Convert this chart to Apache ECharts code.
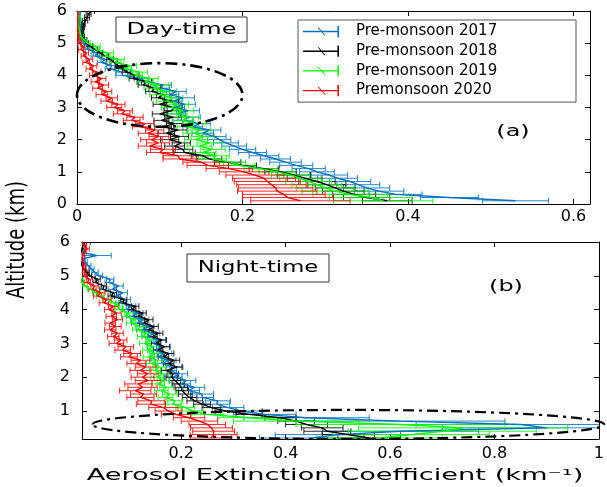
<!DOCTYPE html>
<html>
<head>
<meta charset="utf-8">
<script src="https://cdn.jsdelivr.net/npm/echarts/dist/echarts.min.js"></script>
<style>
  html, body { margin: 0; padding: 0; background: #fff; }
  #chart { width: 607px; height: 487px; }
</style>
</head>
<body>
<div id="chart"></div>
<script>
// altitude grid (km)
var altDay = [
  0.1,0.2,0.3,0.4,0.5,0.6,0.7,0.8,0.9,1.0,
  1.1,1.2,1.3,1.4,1.5,1.6,1.7,1.8,1.9,2.0,
  2.1,2.2,2.3,2.4,2.5,2.6,2.7,2.8,2.9,3.0,
  3.1,3.2,3.3,3.4,3.5,3.6,3.7,3.8,3.9,4.0,
  4.1,4.2,4.3,4.4,4.5,4.6,4.7,4.8,4.9,5.0,
  5.1,5.2,5.3,5.4,5.5,5.6,5.7,5.8,5.9,6.0];
var altNight = [
  0.2,0.3,0.4,0.5,0.6,0.7,0.8,0.9,1.0,
  1.1,1.2,1.3,1.4,1.5,1.6,1.7,1.8,1.9,2.0,
  2.1,2.2,2.3,2.4,2.5,2.6,2.7,2.8,2.9,3.0,
  3.1,3.2,3.3,3.4,3.5,3.6,3.7,3.8,3.9,4.0,
  4.1,4.2,4.3,4.4,4.5,4.6,4.7,4.8,4.9,5.0,
  5.1,5.2,5.3,5.4,5.5,5.6,5.7,5.8,5.9,6.0];

// (a) day-time extinction + error
var blueDay = [
  0.53,0.45,0.385,0.365,0.35,0.34,0.33,0.315,0.305,0.29,
  0.28,0.265,0.252,0.24,0.226,0.212,0.2,0.19,0.18,0.172,
  0.166,0.152,0.16,0.14,0.148,0.128,0.136,0.12,0.134,0.118,
  0.13,0.116,0.128,0.112,0.12,0.102,0.104,0.082,0.078,0.055,
  0.054,0.04,0.042,0.03,0.034,0.022,0.024,0.014,0.015,0.008,
  0.008,0.006,0.005,0.004,0.004,0.003,0.003,0.002,0.002,0.002];
var blueDayErr = [
  0.04,0.035,0.032,0.03,0.028,0.026,0.025,0.024,0.022,0.021,
  0.02,0.02,0.019,0.018,0.018,0.017,0.016,0.015,0.015,0.014,
  0.014,0.013,0.014,0.012,0.013,0.012,0.013,0.011,0.014,0.012,
  0.013,0.011,0.014,0.011,0.012,0.01,0.01,0.009,0.009,0.008,
  0.007,0.006,0.006,0.005,0.005,0.005,0.004,0.004,0.004,0.003,
  0.003,0.003,0.003,0.002,0.002,0.002,0.002,0.002,0.002,0.002];
var blackDay = [
  0.375,0.35,0.335,0.322,0.312,0.302,0.29,0.275,0.262,0.246,
  0.226,0.2,0.182,0.16,0.152,0.13,0.128,0.118,0.126,0.112,
  0.124,0.108,0.122,0.104,0.118,0.102,0.116,0.1,0.114,0.118,
  0.1,0.114,0.098,0.104,0.09,0.094,0.08,0.084,0.068,0.07,
  0.06,0.055,0.05,0.045,0.04,0.034,0.028,0.022,0.016,0.011,
  0.009,0.007,0.006,0.006,0.007,0.008,0.01,0.012,0.014,0.017];
var blackDayErr = [
  0.03,0.028,0.026,0.025,0.024,0.023,0.022,0.021,0.02,0.019,
  0.018,0.017,0.016,0.015,0.014,0.013,0.012,0.012,0.011,0.011,
  0.011,0.01,0.011,0.01,0.01,0.009,0.01,0.009,0.009,0.009,
  0.008,0.009,0.008,0.008,0.007,0.007,0.006,0.006,0.005,0.005,
  0.005,0.005,0.004,0.004,0.004,0.004,0.003,0.003,0.003,0.003,
  0.003,0.002,0.002,0.002,0.002,0.002,0.003,0.003,0.003,0.004];
var greenDay = [
  0.37,0.355,0.33,0.312,0.3,0.29,0.28,0.27,0.258,0.242,
  0.222,0.196,0.186,0.164,0.168,0.152,0.164,0.148,0.16,0.144,
  0.152,0.142,0.148,0.134,0.142,0.128,0.134,0.12,0.128,0.114,
  0.122,0.108,0.116,0.1,0.108,0.092,0.1,0.082,0.088,0.07,
  0.076,0.058,0.064,0.046,0.05,0.034,0.038,0.022,0.024,0.012,
  0.009,0.005,0.004,0.003,0.002,0.002,0.002,0.002,0.001,0.001];
var greenDayErr = [
  0.06,0.05,0.045,0.04,0.035,0.03,0.028,0.025,0.023,0.022,
  0.02,0.019,0.018,0.017,0.016,0.016,0.015,0.015,0.015,0.014,
  0.014,0.014,0.014,0.013,0.014,0.013,0.013,0.013,0.013,0.012,
  0.013,0.012,0.012,0.012,0.012,0.011,0.011,0.01,0.01,0.009,
  0.009,0.008,0.008,0.007,0.007,0.006,0.006,0.005,0.004,0.004,
  0.003,0.003,0.002,0.002,0.002,0.002,0.002,0.002,0.001,0.001];
var redDay = [
  0.27,0.255,0.25,0.242,0.24,0.235,0.23,0.226,0.215,0.202,
  0.184,0.158,0.15,0.124,0.122,0.1,0.104,0.088,0.098,0.09,
  0.099,0.086,0.094,0.078,0.082,0.066,0.07,0.054,0.058,0.045,
  0.05,0.036,0.042,0.03,0.036,0.025,0.032,0.022,0.03,0.02,
  0.024,0.015,0.02,0.011,0.015,0.008,0.011,0.005,0.007,0.003,
  0.002,0.001,0.001,0.001,0.001,0.001,0.001,0.001,0.001,0.001];
var redDayErr = [
  0.06,0.055,0.05,0.048,0.045,0.042,0.04,0.038,0.035,0.03,
  0.028,0.025,0.022,0.02,0.018,0.016,0.015,0.014,0.014,0.013,
  0.012,0.012,0.011,0.011,0.011,0.01,0.01,0.01,0.009,0.009,
  0.008,0.007,0.007,0.007,0.006,0.006,0.006,0.005,0.005,0.005,
  0.005,0.004,0.004,0.004,0.004,0.003,0.003,0.003,0.002,0.002,
  0.002,0.001,0.001,0.001,0.001,0.001,0.001,0.001,0.001,0.001];

// (b) night-time extinction + error
var blueNight = [
  0.45,0.5,0.62,0.9,0.85,0.62,0.44,0.36,0.315,
  0.29,0.268,0.27,0.24,0.24,0.215,0.225,0.2,0.21,0.185,
  0.196,0.176,0.186,0.165,0.176,0.155,0.168,0.148,0.166,0.145,
  0.158,0.136,0.148,0.126,0.138,0.115,0.128,0.105,0.118,0.096,
  0.104,0.084,0.094,0.076,0.088,0.068,0.08,0.062,0.064,0.042,
  0.035,0.028,0.022,0.016,0.012,0.038,0.01,0.006,0.005,0.004];
var blueNightErr = [
  0.1,0.12,0.15,0.2,0.2,0.2,0.12,0.06,0.04,
  0.03,0.025,0.024,0.022,0.022,0.02,0.02,0.018,0.018,0.017,
  0.016,0.015,0.015,0.014,0.014,0.013,0.014,0.012,0.013,0.012,
  0.012,0.011,0.011,0.011,0.01,0.01,0.01,0.01,0.009,0.009,
  0.009,0.009,0.009,0.008,0.009,0.008,0.009,0.008,0.007,0.007,
  0.006,0.005,0.005,0.004,0.004,0.028,0.004,0.003,0.003,0.003];
var blackNight = [
  0.56,0.52,0.48,0.47,0.44,0.42,0.39,0.33,0.285,
  0.258,0.24,0.226,0.216,0.208,0.202,0.2,0.195,0.188,0.182,
  0.184,0.172,0.192,0.176,0.186,0.166,0.176,0.156,0.168,0.152,
  0.163,0.145,0.156,0.138,0.148,0.128,0.138,0.118,0.126,0.106,
  0.112,0.088,0.09,0.066,0.07,0.05,0.052,0.036,0.04,0.024,
  0.02,0.013,0.01,0.008,0.007,0.007,0.008,0.01,0.012,0.016];
var blackNightErr = [
  0.06,0.05,0.045,0.04,0.04,0.035,0.03,0.025,0.02,
  0.018,0.016,0.015,0.014,0.013,0.012,0.012,0.011,0.011,0.011,
  0.011,0.01,0.011,0.01,0.011,0.01,0.01,0.009,0.01,0.009,
  0.009,0.009,0.009,0.008,0.008,0.008,0.008,0.007,0.007,0.007,
  0.007,0.007,0.006,0.006,0.006,0.006,0.005,0.005,0.005,0.004,
  0.004,0.004,0.003,0.003,0.003,0.003,0.003,0.004,0.006,0.01];
var greenNight = [
  0.58,0.64,0.7,0.74,0.62,0.42,0.33,0.25,0.222,
  0.208,0.184,0.188,0.17,0.178,0.162,0.172,0.156,0.166,0.154,
  0.164,0.15,0.158,0.144,0.153,0.138,0.15,0.136,0.146,0.13,
  0.142,0.126,0.134,0.116,0.122,0.104,0.112,0.094,0.1,0.082,
  0.08,0.072,0.058,0.045,0.036,0.026,0.015,0.01,0.008,0.006,
  0.005,0.004,0.004,0.003,0.003,0.003,0.002,0.002,0.002,0.002];
var greenNightErr = [
  0.12,0.15,0.18,0.2,0.2,0.12,0.06,0.03,0.02,
  0.018,0.016,0.015,0.014,0.014,0.013,0.013,0.012,0.012,0.012,
  0.012,0.011,0.012,0.011,0.011,0.011,0.011,0.01,0.011,0.01,
  0.01,0.01,0.01,0.009,0.01,0.009,0.009,0.008,0.008,0.008,
  0.008,0.008,0.007,0.007,0.006,0.006,0.005,0.004,0.004,0.003,
  0.003,0.003,0.002,0.002,0.002,0.002,0.002,0.002,0.002,0.002];
var redNight = [
  0.257,0.262,0.262,0.258,0.25,0.235,0.215,0.19,0.175,
  0.166,0.142,0.143,0.122,0.128,0.112,0.126,0.118,0.136,0.126,
  0.136,0.122,0.132,0.114,0.122,0.1,0.106,0.088,0.094,0.076,
  0.084,0.07,0.078,0.064,0.074,0.064,0.078,0.066,0.076,0.062,
  0.07,0.052,0.058,0.04,0.046,0.03,0.034,0.02,0.024,0.014,
  0.015,0.013,0.012,0.011,0.01,0.011,0.014,0.02,0.014,0.01];
var redNightErr = [
  0.04,0.045,0.04,0.04,0.035,0.035,0.03,0.028,0.025,
  0.028,0.028,0.026,0.026,0.025,0.03,0.028,0.026,0.024,0.022,
  0.02,0.02,0.02,0.018,0.018,0.016,0.016,0.015,0.015,0.014,
  0.012,0.011,0.011,0.011,0.011,0.01,0.01,0.01,0.009,0.009,
  0.009,0.009,0.008,0.008,0.008,0.007,0.007,0.006,0.006,0.005,
  0.005,0.005,0.004,0.004,0.004,0.004,0.004,0.004,0.004,0.003];

var seriesNames = ['Pre-monsoon 2017', 'Pre-monsoon 2018', 'Pre-monsoon 2019', 'Premonsoon 2020'];
var seriesColors = ['#0072BD', '#000000', '#00FF00', '#FF0000'];
var dayTicks = [0, 0.2, 0.4, 0.6];
var nightTicks = [0.2, 0.4, 0.6, 0.8, 1];
var altTicksDay = [0, 1, 2, 3, 4, 5, 6];
var altTicksNight = [1, 2, 3, 4, 5, 6];

var profilesDay = [[blueDay, blueDayErr], [blackDay, blackDayErr], [greenDay, greenDayErr], [redDay, redDayErr]];
var profilesNight = [[blueNight, blueNightErr], [blackNight, blackNightErr], [greenNight, greenNightErr], [redNight, redNightErr]];

var chart = echarts.init(document.getElementById('chart'));

var FONT = 'DejaVu Sans';

function makeAxis(pos, gridIndex, min, max, ticks, showLabel, margin) {
  return {
    type: 'value',
    gridIndex: gridIndex,
    position: pos,
    min: min,
    max: max,
    axisLine: { show: true, onZero: false, lineStyle: { color: '#000', width: 1 } },
    axisTick: { show: true, inside: true, length: 5, customValues: ticks, lineStyle: { color: '#000', width: 1 } },
    axisLabel: { show: showLabel, customValues: ticks, margin: margin, color: '#000', fontFamily: FONT, fontSize: 16 },
    splitLine: { show: false }
  };
}

// horizontal error bar with caps
function errorBar(params, api) {
  var v = api.value(0), a = api.value(1), e = api.value(2);
  var lo = api.coord([v - e, a]);
  var hi = api.coord([v + e, a]);
  var cap = 3;
  var st = { stroke: api.visual('color'), lineWidth: 1, opacity: 0.85 };
  return {
    type: 'group',
    children: [
      { type: 'line', shape: { x1: lo[0], y1: lo[1], x2: hi[0], y2: hi[1] }, style: st },
      { type: 'line', shape: { x1: lo[0], y1: lo[1] - cap, x2: lo[0], y2: lo[1] + cap }, style: st },
      { type: 'line', shape: { x1: hi[0], y1: hi[1] - cap, x2: hi[0], y2: hi[1] + cap }, style: st }
    ]
  };
}

var series = [];
function addPanel(profiles, alts, xi, yi) {
  profiles.forEach(function (p, k) {
    var vals = p[0], errs = p[1];
    var lineData = [], barData = [];
    for (var i = 0; i < alts.length; i++) {
      lineData.push([vals[i], alts[i]]);
      barData.push([vals[i], alts[i], errs[i]]);
    }
    series.push({
      name: seriesNames[k], type: 'custom', xAxisIndex: xi, yAxisIndex: yi,
      renderItem: errorBar, encode: { x: 0, y: 1 }, clip: true,
      itemStyle: { color: seriesColors[k] }, data: barData, silent: true
    });
    series.push({
      name: seriesNames[k], type: 'line', xAxisIndex: xi, yAxisIndex: yi,
      symbol: 'none', clip: true, color: seriesColors[k],
      lineStyle: { width: 1.4, color: seriesColors[k] },
      data: lineData, silent: true
    });
  });
}
addPanel(profilesDay, altDay, 0, 0);
addPanel(profilesNight, altNight, 2, 2);

var option = {
  backgroundColor: '#fff',
  animation: false,
  grid: [
    { left: 77, top: 11, right: 17, height: 193 },
    { left: 82, top: 242, right: 6, height: 197 }
  ],
  xAxis: [
    makeAxis('bottom', 0, 0, 0.62, dayTicks, true, 5),
    makeAxis('top', 0, 0, 0.62, dayTicks, false, 5),
    makeAxis('bottom', 1, 0.01, 1, nightTicks, true, 7),
    makeAxis('top', 1, 0.01, 1, nightTicks, false, 7)
  ],
  yAxis: [
    makeAxis('left', 0, 0, 6, altTicksDay, true, 10),
    makeAxis('right', 0, 0, 6, altTicksDay, false, 10),
    makeAxis('left', 1, 0.17, 6, altTicksNight, true, 12),
    makeAxis('right', 1, 0.17, 6, altTicksNight, false, 12)
  ],
  legend: {
    data: seriesNames,
    left: 298, top: 20,
    orient: 'vertical',
    padding: [4, 8, 4, 5],
    itemGap: 4.7,
    itemWidth: 36, itemHeight: 12,
    icon: 'path://M0,5.4h32v1.2h-32z M30.6,1h1.4v10h-1.4z M13,2.5l1,0l6,7l-1,0z',
    backgroundColor: '#fff',
    borderColor: '#555', borderWidth: 1, borderRadius: 0,
    selectedMode: false,
    textStyle: { fontFamily: FONT, fontSize: 15, color: '#000', width: 212, lineHeight: 12, padding: [0, 0, 0, 12] }
  },
  series: series
};
chart.setOption(option);

function ellipse(xi, yi, cx, cy, rx, ry, dash, w) {
  var c = chart.convertToPixel({ xAxisIndex: xi, yAxisIndex: yi }, [cx, cy]);
  var e = chart.convertToPixel({ xAxisIndex: xi, yAxisIndex: yi }, [cx + rx, cy + ry]);
  return {
    type: 'ellipse', z: 50, silent: true,
    shape: { cx: c[0], cy: c[1], rx: Math.abs(e[0] - c[0]), ry: Math.abs(c[1] - e[1]) },
    style: { fill: 'none', stroke: '#000', lineWidth: w, lineDash: dash }
  };
}
function label(text, x, y, size, sx) {
  return {
    type: 'text', z: 60, silent: true, x: x, y: y, scaleX: sx,
    style: { text: text, fontFamily: FONT, fontSize: size, fill: '#000', align: 'center', verticalAlign: 'middle' }
  };
}
function box(x, y, w, h) {
  return { type: 'rect', z: 55, silent: true, shape: { x: x, y: y, width: w, height: h },
    style: { fill: '#fff', stroke: '#333', lineWidth: 1 } };
}

chart.setOption({
  graphic: [
    ellipse(0, 0, 0.1, 3.39, 0.1, 0.99, [12, 5, 3, 5], 2.6),
    ellipse(2, 2, 0.52, 0.6, 0.49, 0.43, [11, 5, 3, 5], 2.2),
    box(116, 17, 131, 25),
    label('Day-time', 181.5, 29.5, 16, 1.5),
    box(187, 254, 142, 28),
    label('Night-time', 258, 268, 16, 1.42),
    label('(a)', 513, 132, 16, 1.5),
    label('(b)', 506, 287, 16, 1.5),
    label('Aerosol Extinction Coefficient (km\u207B\u00B9)', 335, 476, 16, 1.7),
    {
      type: 'text', z: 60, silent: true, x: 17, y: 240, rotation: Math.PI / 2, scaleY: 1.4,
      style: { text: 'Altitude (km)', fontFamily: FONT, fontSize: 18, fill: '#000', align: 'center', verticalAlign: 'middle' }
    }
  ]
});
</script>
</body>
</html>
